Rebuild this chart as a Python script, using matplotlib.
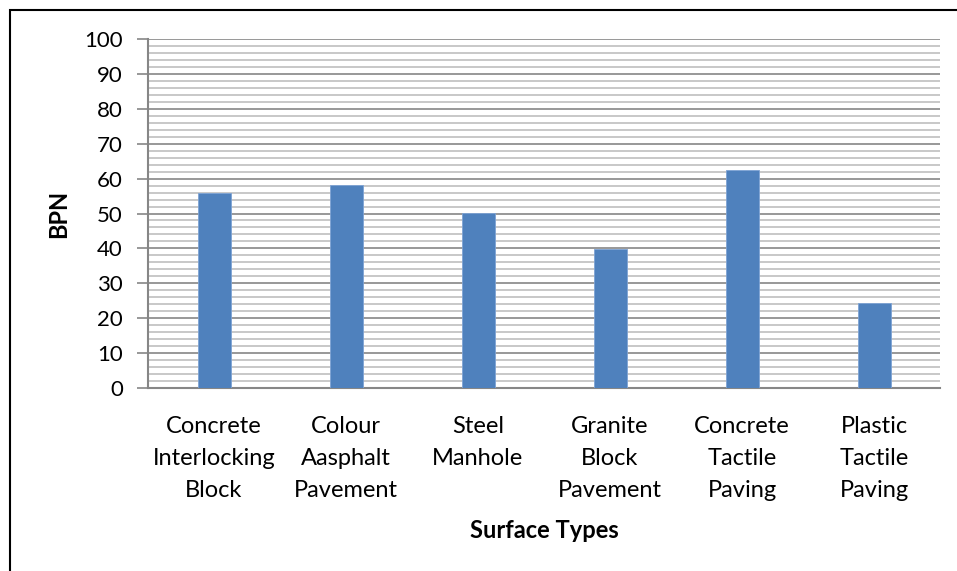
import matplotlib
matplotlib.use("Agg")
import matplotlib.pyplot as plt
from matplotlib.patches import Rectangle
from matplotlib.ticker import MultipleLocator

categories = [
    "Concrete\nInterlocking\nBlock",
    "Colour\nAasphalt\nPavement",
    "Steel\nManhole",
    "Granite\nBlock\nPavement",
    "Concrete\nTactile\nPaving",
    "Plastic\nTactile\nPaving",
]
bpn = [55.9, 58.3, 50.1, 39.8, 62.5, 24.3]

plt.rcParams["font.family"] = ["Lato", "DejaVu Sans"]

fig = plt.figure(figsize=(9.57, 5.71), dpi=100)
ax = fig.add_axes([148 / 957, 1 - 388 / 571, (940 - 148) / 957, (388 - 39) / 571])

x = range(len(categories))
ax.bar(x, bpn, width=0.25, color="#4f81bd", edgecolor="#7ea3d4", linewidth=0.6, zorder=3)

ax.set_xlim(-0.5, len(categories) - 0.5)
ax.set_ylim(0, 100)
ax.yaxis.set_major_locator(MultipleLocator(10))
ax.yaxis.set_minor_locator(MultipleLocator(2))
ax.grid(axis="y", which="major", color="#868686", linewidth=1.2, zorder=1)
ax.grid(axis="y", which="minor", color="#bfbfbf", linewidth=1.2, zorder=0)

ax.set_xticks(list(x))
ax.set_xticklabels(categories, fontsize=17, linespacing=1.65)
ax.tick_params(axis="x", length=0, pad=20)
ax.tick_params(axis="y", which="major", length=8, width=1.2, color="#868686", labelsize=16, pad=10)
ax.tick_params(axis="y", which="minor", length=0)

for side in ("top", "right"):
    ax.spines[side].set_visible(False)
for side in ("left", "bottom"):
    ax.spines[side].set_color("#868686")
    ax.spines[side].set_linewidth(1.5)

ax.set_ylabel("BPN", fontsize=17, fontweight="bold", labelpad=10)
ax.set_xlabel("Surface Types", fontsize=17, fontweight="bold", labelpad=13)

# chart frame, open to the right and bottom
fig.patches.append(Rectangle((10 / 957, -0.1), 1.1, 1.1 - 10 / 571,
                             transform=fig.transFigure, fill=False,
                             edgecolor="black", linewidth=1.5))

fig.savefig("out.png", dpi=100)
